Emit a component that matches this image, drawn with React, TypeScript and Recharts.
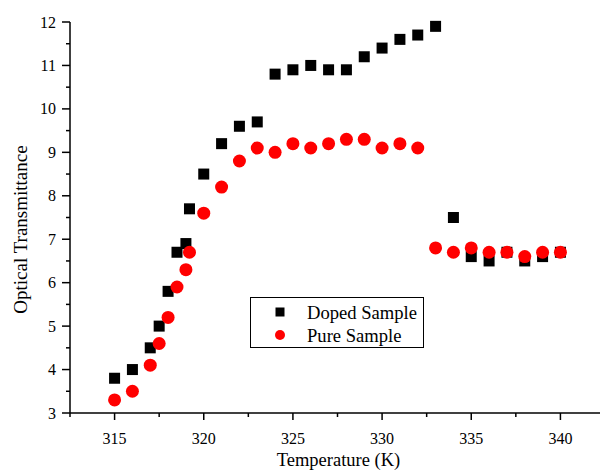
import { ScatterChart, Scatter, XAxis, YAxis, Legend, Label } from 'recharts';

const dopedTemps = [315, 316, 317, 317.5, 318, 318.5, 319, 319.2, 320, 321, 322, 323, 324, 325, 326, 327, 328, 329, 330, 331, 332, 333, 334, 335, 336, 337, 338, 339, 340];
const dopedValues = [3.8, 4.0, 4.5, 5.0, 5.8, 6.7, 6.9, 7.7, 8.5, 9.2, 9.6, 9.7, 10.8, 10.9, 11.0, 10.9, 10.9, 11.2, 11.4, 11.6, 11.7, 11.9, 7.5, 6.6, 6.5, 6.7, 6.5, 6.6, 6.7];

const pureTemps = [315, 316, 317, 317.5, 318, 318.5, 319, 319.2, 320, 321, 322, 323, 324, 325, 326, 327, 328, 329, 330, 331, 332, 333, 334, 335, 336, 337, 338, 339, 340];
const pureValues = [3.3, 3.5, 4.1, 4.6, 5.2, 5.9, 6.3, 6.7, 7.6, 8.2, 8.8, 9.1, 9.0, 9.2, 9.1, 9.2, 9.3, 9.3, 9.1, 9.2, 9.1, 6.8, 6.7, 6.8, 6.7, 6.7, 6.6, 6.7, 6.7];

const xTicks = [312.5, 315, 317.5, 320, 322.5, 325, 327.5, 330, 332.5, 335, 337.5, 340, 342.5];
const yTicks = [3, 3.5, 4, 4.5, 5, 5.5, 6, 6.5, 7, 7.5, 8, 8.5, 9, 9.5, 10, 10.5, 11, 11.5, 12];

const doped = dopedTemps.map((x, i) => ({ x, y: dopedValues[i] }));
const pure = pureTemps.map((x, i) => ({ x, y: pureValues[i] }));

const FONT = '"Liberation Serif", "Times New Roman", serif';

const SquareDot = (props: any) => {
  const { cx, cy } = props;
  return <rect x={cx - 5.5} y={cy - 5.5} width={11} height={11} fill="#000" />;
};

const RoundDot = (props: any) => {
  const { cx, cy } = props;
  return <circle cx={cx} cy={cy} r={6.5} fill="#ff0000" />;
};

const XTick = (props: any) => {
  const { x, y, payload } = props;
  const major = payload.value % 5 === 0;
  return (
    <g>
      <line x1={x} x2={x} y1={y} y2={y + (major ? 7 : 4)} stroke="#000" strokeWidth={1.5} />
      {major && (
        <text x={x} y={y + 31} textAnchor="middle" fontSize={16} fontFamily={FONT} fill="#000">
          {payload.value}
        </text>
      )}
    </g>
  );
};

const YTick = (props: any) => {
  const { x, y, payload } = props;
  const major = payload.value % 1 === 0;
  return (
    <g>
      <line x1={x - (major ? 8 : 4)} x2={x} y1={y} y2={y} stroke="#000" strokeWidth={1.5} />
      {major && (
        <text x={x - 14} y={y + 5.5} textAnchor="end" fontSize={16} fontFamily={FONT} fill="#000">
          {payload.value}
        </text>
      )}
    </g>
  );
};

const LegendBox = () => (
  <div
    style={{
      width: 172,
      height: 49,
      border: '1px solid #000',
      background: '#fff',
      fontFamily: FONT,
      fontSize: 18.6,
      color: '#000',
      position: 'relative',
    }}
  >
    {[
      { name: 'Doped Sample', shape: 'square' },
      { name: 'Pure Sample', shape: 'circle' },
    ].map((item, i) => (
      <div key={item.name} style={{ position: 'absolute', left: 0, top: 2 + i * 23, height: 25, width: 172 }}>
        <svg width={20} height={20} style={{ position: 'absolute', left: 19, top: 2 }}>
          {item.shape === 'square' ? (
            <rect x={5.5} y={5.5} width={9} height={9} fill="#000" />
          ) : (
            <circle cx={10} cy={10} r={5} fill="#ff0000" />
          )}
        </svg>
        <span style={{ position: 'absolute', left: 56, top: 0, lineHeight: '25px', whiteSpace: 'nowrap' }}>
          {item.name}
        </span>
      </div>
    ))}
  </div>
);

export default function App() {
  return (
    <div style={{ position: 'absolute', left: 0, top: 0, width: 600, height: 472, overflow: 'hidden', background: '#fff' }}>
      <ScatterChart width={610} height={472} margin={{ top: 22, right: 5, left: 0, bottom: 0 }}>
        <XAxis
          type="number"
          dataKey="x"
          domain={[312.5, 342.5]}
          ticks={xTicks}
          interval={0}
          height={59}
          tickSize={0}
          tickMargin={0}
          tick={<XTick />}
          axisLine={{ stroke: '#000', strokeWidth: 1.5 }}
          tickLine={false}
        >
          <Label
            content={(p: any) => {
              const vb = p.viewBox;
              return (
                <text x={vb.x + vb.width / 2 + 1} y={466} textAnchor="middle" fontSize={18.5} fontFamily={FONT} fill="#000">
                  Temperature (K)
                </text>
              );
            }}
          />
        </XAxis>
        <YAxis
          type="number"
          dataKey="y"
          domain={[3, 12]}
          ticks={yTicks}
          interval={0}
          width={70}
          tickSize={0}
          tickMargin={0}
          tick={<YTick />}
          axisLine={{ stroke: '#000', strokeWidth: 1.5 }}
          tickLine={false}
        >
          <Label
            content={(p: any) => {
              const vb = p.viewBox;
              const cy = vb.y + vb.height / 2 + 12;
              return (
                <text
                  x={27}
                  y={cy}
                  transform={`rotate(-90, 27, ${cy})`}
                  textAnchor="middle"
                  fontSize={19}
                  fontFamily={FONT}
                  fill="#000"
                >
                  Optical Transmittance
                </text>
              );
            }}
          />
        </YAxis>
        <Legend
          layout="horizontal"
          verticalAlign="middle"
          align="center"
          content={<LegendBox />}
          wrapperStyle={{ left: 250, top: 297, width: 174, height: 51, bottom: 'auto', right: 'auto' }}
        />
        <Scatter name="Doped Sample" data={doped} shape={<SquareDot />} isAnimationActive={false} />
        <Scatter name="Pure Sample" data={pure} shape={<RoundDot />} isAnimationActive={false} />
      </ScatterChart>
    </div>
  );
}
